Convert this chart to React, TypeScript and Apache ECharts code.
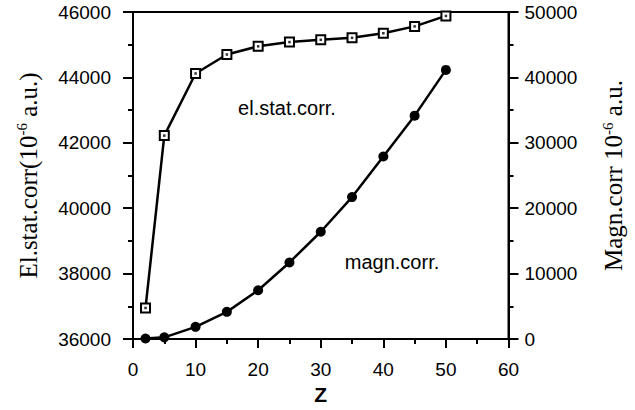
import React, { useEffect, useRef } from "react";
import * as echarts from "echarts";

const zValues = [2, 5, 10, 15, 20, 25, 30, 35, 40, 45, 50];
const elStatCorr = [36950, 42220, 44120, 44700, 44950, 45080, 45150, 45210, 45350, 45560, 45880];
const magnCorr = [80, 250, 1860, 4150, 7450, 11700, 16400, 21700, 27900, 34150, 41150];

const leftTicks = { min: 36000, max: 46000, interval: 2000 };
const rightTicks = { min: 0, max: 50000, interval: 10000 };
const xTicks = { min: 0, max: 60, interval: 10 };

const SANS = "Liberation Sans";
const SERIF = "Liberation Serif";

export default function App() {
  const ref = useRef<HTMLDivElement>(null);
  useEffect(() => {
    if (!ref.current) return;
    const chart = echarts.init(ref.current, null, { renderer: "svg" });
    const elData = zValues.map((z, i) => [z, elStatCorr[i]]);
    const mgData = zValues.map((z, i) => [z, magnCorr[i]]);
    const axisLine = { lineStyle: { color: "#000", width: 2 } };
    const plain = (v: number) => String(v);
    const tickLabel = { color: "#000", fontFamily: SANS, fontSize: 19, formatter: plain };
    const titleRich = {
      t: { fontFamily: SERIF, fontSize: 25, color: "#000", lineHeight: 30 },
      sup: { fontFamily: SERIF, fontSize: 15, color: "#000", lineHeight: 30, padding: [0, 0, 12, 0] },
    };
    const tick = { show: true, inside: false, length: 10, lineStyle: { color: "#000", width: 2 } };
    const minor = { show: true, splitNumber: 2, length: 5, lineStyle: { color: "#000", width: 2 } };
    chart.setOption({
      animation: false,
      backgroundColor: "#fff",
      grid: { left: 133, right: 123, top: 12, bottom: 67, show: true, borderColor: "#000", borderWidth: 2 },
      xAxis: {
        type: "value",
        ...xTicks,
        name: "Z",
        nameLocation: "middle",
        nameGap: 45,
        nameTextStyle: { fontFamily: SANS, fontSize: 21, fontWeight: "bold", color: "#000" },
        axisLine,
        axisTick: { ...tick, length: 9 },
        minorTick: minor,
        splitLine: { show: false },
        axisLabel: { ...tickLabel, margin: 21 },
      },
      yAxis: [
        {
          type: "value",
          position: "left",
          ...leftTicks,
          name: "{t|El.stat.corr(10}{sup|-6}{t| a.u.)}",
          nameLocation: "middle",
          nameRotate: 90,
          nameGap: 90,
          nameTextStyle: { rich: titleRich },
          axisLine: { show: true, ...axisLine },
          axisTick: tick,
          minorTick: minor,
          splitLine: { show: false },
          axisLabel: { ...tickLabel, margin: 22 },
        },
        {
          type: "value",
          position: "right",
          ...rightTicks,
          name: "{t|Magn.corr 10}{sup|-6}{t| a.u.}",
          nameLocation: "middle",
          nameRotate: 90,
          nameGap: 90,
          nameTextStyle: { rich: titleRich },
          axisLine: { show: true, ...axisLine },
          axisTick: tick,
          minorTick: minor,
          splitLine: { show: false },
          axisLabel: { ...tickLabel, margin: 16 },
        },
      ],
      graphic: [
        {
          type: "text",
          x: 287,
          y: 108,
          style: { text: "el.stat.corr.", fontFamily: SANS, fontSize: 20, fill: "#000", textAlign: "center", textVerticalAlign: "middle" },
        },
        {
          type: "text",
          x: 392,
          y: 262,
          style: { text: "magn.corr.", fontFamily: SANS, fontSize: 20, fill: "#000", textAlign: "center", textVerticalAlign: "middle" },
        },
      ],
      series: [
        {
          type: "line",
          name: "el.stat.corr.",
          yAxisIndex: 0,
          data: elData,
          symbol: "emptyRect",
          symbolSize: 9,
          lineStyle: { color: "#000", width: 2.5 },
          itemStyle: { color: "#000", borderColor: "#000", borderWidth: 2 },
          z: 3,
        },
        {
          type: "scatter",
          yAxisIndex: 0,
          data: elData,
          symbol: "rect",
          symbolSize: 2.5,
          itemStyle: { color: "#000" },
          z: 4,
        },
        {
          type: "line",
          name: "magn.corr.",
          yAxisIndex: 1,
          data: mgData,
          symbol: "circle",
          symbolSize: 10,
          lineStyle: { color: "#000", width: 2.5 },
          itemStyle: { color: "#000" },
          z: 3,
        },
      ],
    });
    return () => chart.dispose();
  }, []);
  return <div ref={ref} style={{ width: 635, height: 410, position: "absolute", left: 0, top: 0 }} />;
}
